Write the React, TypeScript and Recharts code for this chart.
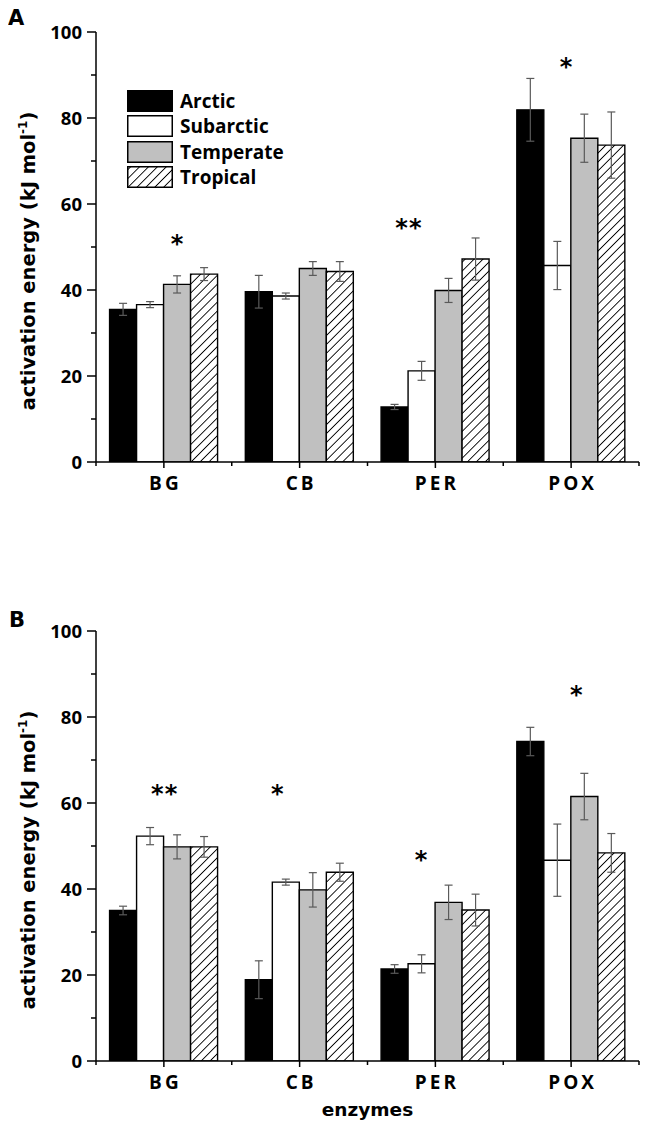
import React from 'react';
import { BarChart, Bar, XAxis, YAxis, ErrorBar, LabelList, Legend } from 'recharts';

// ---------- data ----------
const categories = ['BG', 'CB', 'PER', 'POX'];
const seriesNames = ['Arctic', 'Subarctic', 'Temperate', 'Tropical'];
const yTicks = [0, 10, 20, 30, 40, 50, 60, 70, 80, 90, 100];

// Panel A
const arcticA = [35.5, 39.6, 12.8, 81.9];
const arcticAErr = [1.4, 3.8, 0.6, 7.3];
const subarcticA = [36.6, 38.6, 21.2, 45.7];
const subarcticAErr = [0.7, 0.7, 2.2, 5.6];
const temperateA = [41.3, 45.0, 39.9, 75.3];
const temperateAErr = [2.0, 1.6, 2.8, 5.6];
const tropicalA = [43.7, 44.3, 47.2, 73.7];
const tropicalAErr = [1.5, 2.3, 4.9, 7.7];
const sigCatsA = ['BG', 'PER', 'POX'];
const sigValuesA = [51.8, 55.6, 93.0];
const sigMarksA = ['*', '**', '*'];
const sigSlotsA = [2.52, 1.03, 1.84];

// Panel B
const arcticB = [35.0, 18.9, 21.4, 74.3];
const arcticBErr = [1.0, 4.4, 1.0, 3.3];
const subarcticB = [52.3, 41.6, 22.6, 46.7];
const subarcticBErr = [2.0, 0.7, 2.1, 8.4];
const temperateB = [49.8, 39.8, 36.9, 61.5];
const temperateBErr = [2.8, 4.0, 4.0, 5.4];
const tropicalB = [49.8, 43.9, 35.1, 48.4];
const tropicalBErr = [2.4, 2.1, 3.7, 4.5];
const sigCatsB = ['BG', 'CB', 'PER', 'POX'];
const sigValuesB = [63.2, 63.2, 48.0, 86.2];
const sigMarksB = ['**', '*', '*', '*'];
const sigSlotsB = [2.04, 1.2, 1.5, 2.22];

const fills = ['#000000', '#ffffff', '#c0c0c0', 'url(#hatch)'];
const keys = ['arctic', 'subarctic', 'temperate', 'tropical'];

const buildRows = (a: number[], ae: number[], s: number[], se: number[], t: number[], te: number[], tr: number[], tre: number[]) =>
  categories.map((cat, i) => ({
    cat,
    arctic: a[i], arcticErr: ae[i],
    subarctic: s[i], subarcticErr: se[i],
    temperate: t[i], temperateErr: te[i],
    tropical: tr[i], tropicalErr: tre[i],
  }));

const rowsA = buildRows(arcticA, arcticAErr, subarcticA, subarcticAErr, temperateA, temperateAErr, tropicalA, tropicalAErr);
const rowsB = buildRows(arcticB, arcticBErr, subarcticB, subarcticBErr, temperateB, temperateBErr, tropicalB, tropicalBErr);

// ---------- layout ----------
const W = 640;
const YW = 88;
const MR = 9;
const BAND = (W - YW - MR) / categories.length;
const X_TS = 8;
const X_TM = 7;
const Y_TS = 9;
const Y_TM = 5;
const TICK_FONT = '"Open Sans", sans-serif';
const LABEL_FONT = '"DejaVu Sans", sans-serif';

const XTick = (p: any) => {
  const { x, y, payload } = p;
  const idx = categories.indexOf(payload.value);
  const axisY = y - X_TS - X_TM;
  const half = BAND / 2;
  return (
    <g>
      <line x1={x} x2={x} y1={axisY} y2={axisY + 6} stroke="#000" strokeWidth={1.5} />
      <line x1={x - half} x2={x - half} y1={axisY} y2={axisY + 4} stroke="#000" strokeWidth={1.5} />
      {idx === categories.length - 1 && (
        <line x1={x + half} x2={x + half} y1={axisY} y2={axisY + 4} stroke="#000" strokeWidth={1.5} />
      )}
      <text x={x + 1.5} y={y} dy="0.71em" textAnchor="middle" fontFamily={TICK_FONT} fontWeight={700} fontSize={19} letterSpacing={3} fill="#000">
        {payload.value}
      </text>
    </g>
  );
};

const YTick = (p: any) => {
  const { x, y, payload } = p;
  const v = payload.value;
  const major = v % 20 === 0;
  const axisX = x + Y_TS + Y_TM;
  return (
    <g>
      <line x1={axisX - (major ? 9 : 5)} x2={axisX} y1={y} y2={y} stroke="#000" strokeWidth={1.5} />
      {major && (
        <text x={x} y={y} dy="0.36em" textAnchor="end" fontFamily={TICK_FONT} fontWeight={700} fontSize={18.5} fill="#000">
          {v}
        </text>
      )}
    </g>
  );
};

const renderYLabel = (props: any) => {
  const vb = props.viewBox || props;
  const cx = vb.x + 27;
  const cy = vb.y + vb.height / 2 + 14;
  return (
    <text x={cx} y={cy} transform={`rotate(-90 ${cx} ${cy})`} textAnchor="middle" fontFamily={LABEL_FONT} fontWeight={700} fontSize={19.5} fill="#000">
      activation energy (kJ mol
      <tspan dy={-8} fontSize={12}>-1</tspan>
      <tspan dy={8}>)</tspan>
    </text>
  );
};

const renderXLabel = (props: any) => {
  const vb = props.viewBox || props;
  const cx = vb.x + vb.width / 2;
  const cy = vb.y + 55;
  return (
    <text x={cx} y={cy} textAnchor="middle" fontFamily={LABEL_FONT} fontWeight={700} fontSize={18.5} fill="#000">
      enzymes
    </text>
  );
};

const makeSig = (cats: string[], values: number[], marks: string[], slots: number[], base: number[]) => (p: any) => {
  const vb = p.viewBox || p;
  const { x, y, width, height } = vb;
  const i = cats.indexOf(p.value);
  if (i < 0) return null;
  const ci = categories.indexOf(p.value);
  const ppu = height / base[ci];
  const zeroY = y + height;
  const cy = zeroY - values[i] * ppu;
  const cx = x + slots[i] * width;
  return (
    <text key={`sig-${p.value}`} x={cx} y={cy + 13} textAnchor="middle" fontFamily={LABEL_FONT} fontWeight={700} fontSize={24} letterSpacing={1} fill="#000">
      {marks[i]}
    </text>
  );
};

const renderLegend = () => (
  <div style={{ display: 'flex', flexDirection: 'column' }}>
    {seriesNames.map((n, i) => (
      <div key={n} style={{ display: 'flex', alignItems: 'center', height: 25.5 }}>
        <svg width={46} height={22} style={{ display: 'block' }}>
          <rect x={0.75} y={0.75} width={44.5} height={20.5} fill={fills[i]} stroke="#000" strokeWidth={1.5} />
        </svg>
        <span style={{ marginLeft: 7, fontFamily: TICK_FONT, fontWeight: 700, fontSize: 19, lineHeight: '22px', color: '#000' }}>{n}</span>
      </div>
    ))}
  </div>
);

type PanelProps = {
  rows: any[];
  height: number;
  margin: { top: number; right: number; bottom: number; left: number };
  xAxisHeight: number;
  sig: (p: any) => any;
  legend?: boolean;
  xLabel?: boolean;
};

const Panel = ({ rows, height, margin, xAxisHeight, sig, legend, xLabel }: PanelProps) => (
  <BarChart width={W} height={height} data={rows} margin={margin} barCategoryGap="10%" barGap={0}>
    <XAxis
      dataKey="cat"
      height={xAxisHeight}
      interval={0}
      axisLine={{ stroke: '#000', strokeWidth: 1.5 }}
      tickLine={{ stroke: 'none' }}
      tickSize={X_TS}
      tickMargin={X_TM}
      tick={(p: any) => <XTick {...p} />}
      label={xLabel ? renderXLabel : undefined}
    />
    <YAxis
      domain={[0, 100]}
      ticks={yTicks}
      width={YW}
      interval={0}
      allowDataOverflow
      axisLine={{ stroke: '#000', strokeWidth: 1.5 }}
      tickLine={{ stroke: 'none' }}
      tickSize={Y_TS}
      tickMargin={Y_TM}
      tick={(p: any) => <YTick {...p} />}
      label={renderYLabel}
    />
    {legend && (
      <Legend
        layout="horizontal"
        verticalAlign="middle"
        align="center"
        content={renderLegend}
        wrapperStyle={{ left: 119, top: 80, width: 200, height: 104 }}
      />
    )}
    {keys.map((k, i) => (
      <Bar key={k} dataKey={k} name={seriesNames[i]} fill={fills[i]} stroke="#000" strokeWidth={1.4} isAnimationActive={false}>
        <ErrorBar dataKey={`${k}Err`} width={4} stroke="#5a5a5a" strokeWidth={1.2} direction="y" isAnimationActive={false} />
        {i === 0 && <LabelList dataKey="cat" content={sig} />}
      </Bar>
    ))}
  </BarChart>
);

const letterStyle: React.CSSProperties = {
  position: 'absolute',
  fontFamily: LABEL_FONT,
  fontWeight: 700,
  fontSize: 21,
  lineHeight: 1,
  color: '#000',
};

export default function App() {
  return (
    <div style={{ position: 'relative', width: W, height: 1117 }}>
      <svg width={0} height={0} style={{ position: 'absolute' }}>
        <defs>
          <pattern id="hatch" patternUnits="userSpaceOnUse" width={6.3} height={6.3} patternTransform="rotate(45)">
            <rect x={0} y={0} width={6.3} height={6.3} fill="#fff" />
            <line x1={3.15} y1={-1} x2={3.15} y2={7.3} stroke="#000" strokeWidth={0.9} />
          </pattern>
        </defs>
      </svg>
      <div style={{ position: 'absolute', left: 0, top: 0 }}>
        <Panel
          rows={rowsA}
          height={520}
          margin={{ top: 24, right: MR, bottom: 26, left: 0 }}
          xAxisHeight={40}
          sig={makeSig(sigCatsA, sigValuesA, sigMarksA, sigSlotsA, arcticA)}
          legend
        />
      </div>
      <div style={{ position: 'absolute', left: 0, top: 520 }}>
        <Panel
          rows={rowsB}
          height={597}
          margin={{ top: 103, right: MR, bottom: 8, left: 0 }}
          xAxisHeight={56}
          sig={makeSig(sigCatsB, sigValuesB, sigMarksB, sigSlotsB, arcticB)}
          xLabel
        />
      </div>
      <div style={{ ...letterStyle, left: 0, top: -0.5 }}>A</div>
      <div style={{ ...letterStyle, left: 1, top: 601.5 }}>B</div>
    </div>
  );
}
